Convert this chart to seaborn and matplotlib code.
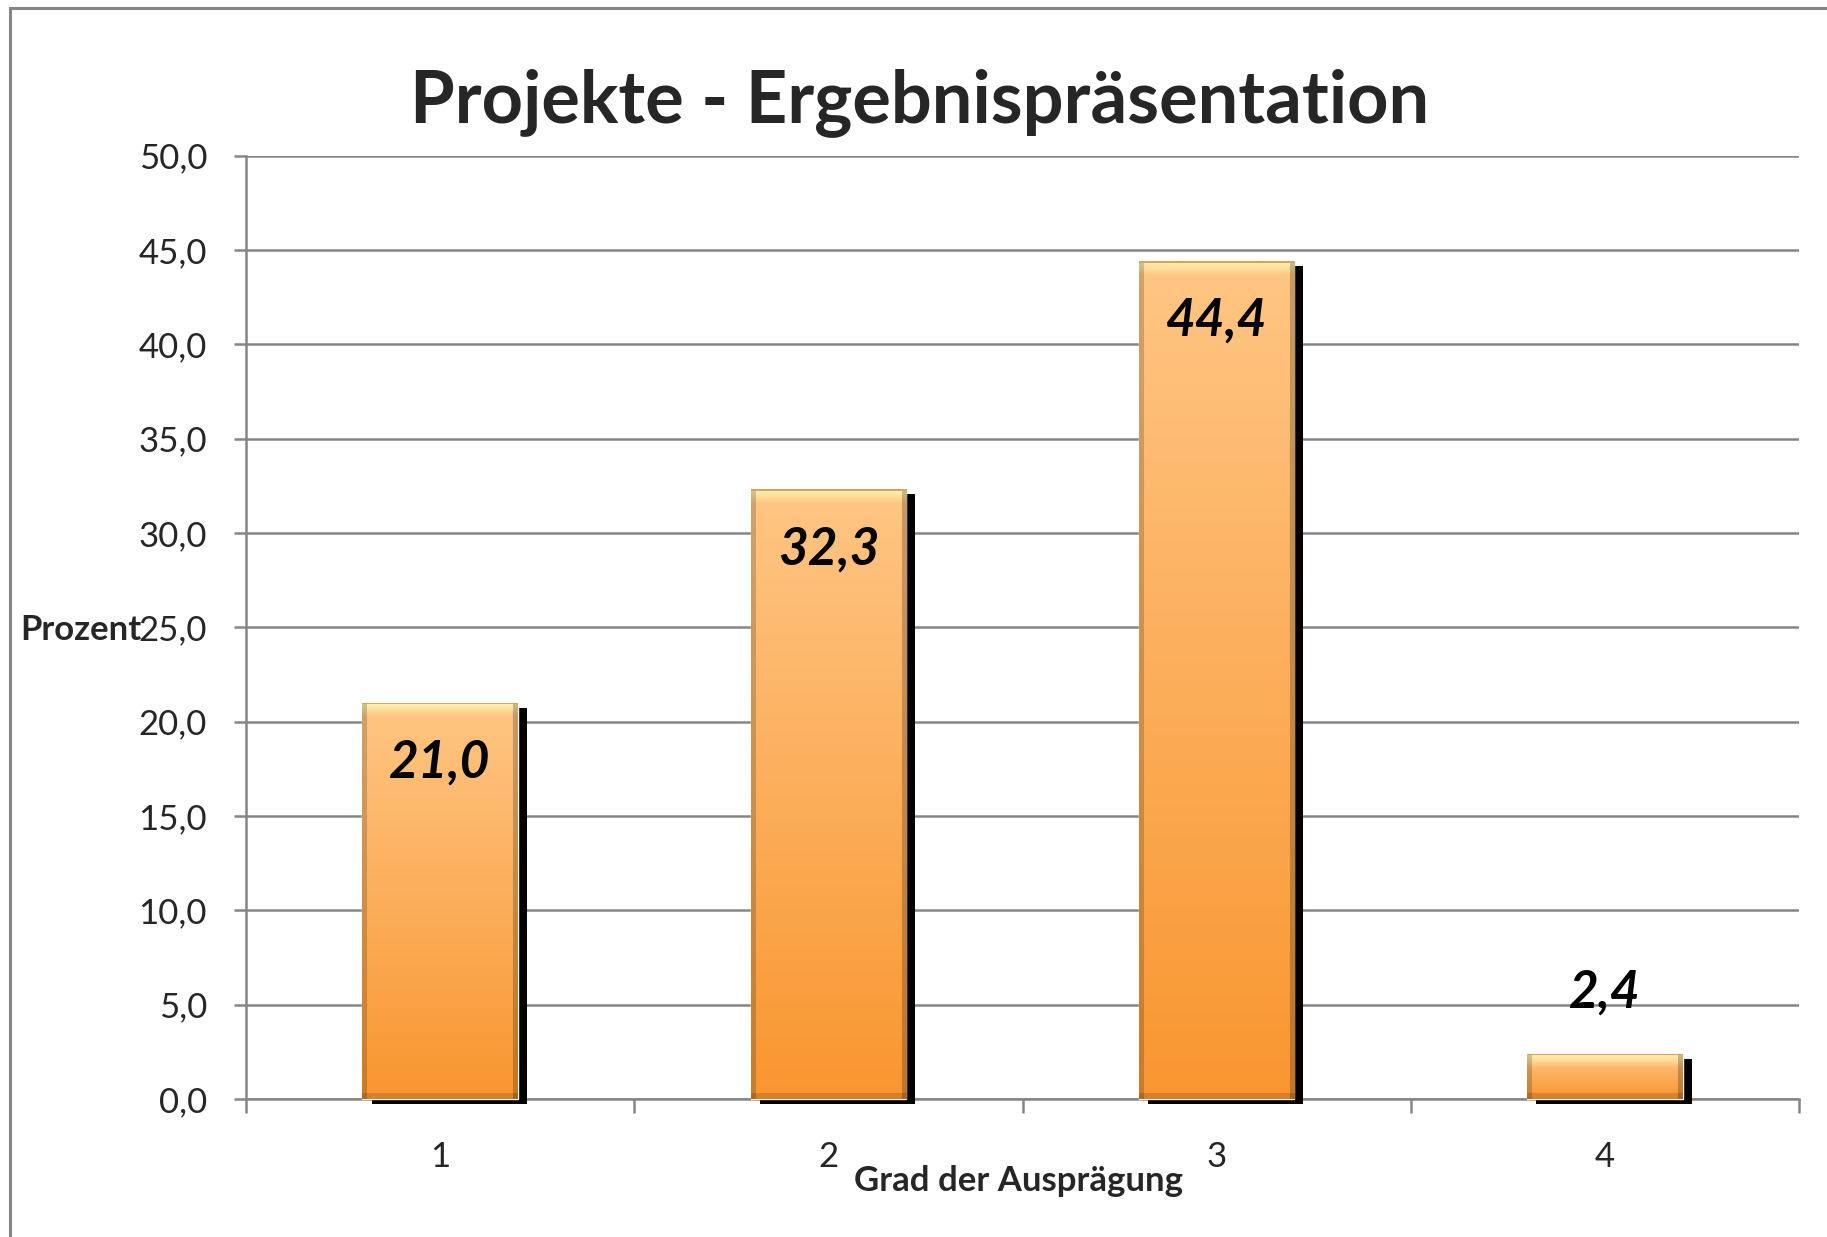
import numpy as np
import pandas as pd
import seaborn as sns
import matplotlib.pyplot as plt
import matplotlib.patheffects as pe
from matplotlib.ticker import FuncFormatter, FixedLocator

categories = ["1", "2", "3", "4"]
prozent = [21.0, 32.3, 44.4, 2.4]
title = "Projekte - Ergebnispräsentation"
xlabel = "Grad der Ausprägung"
ylabel = "Prozent"

sns.set_style("white")
plt.rcParams["font.family"] = ["Lato", "DejaVu Sans"]

W, H, DPI = 1827, 1237, 100
fig = plt.figure(figsize=(W / DPI, H / DPI), dpi=DPI)
ax = fig.add_axes([246 / W, 1 - 1099 / H, (1799 - 246) / W, (1099 - 155.5) / H])

df = pd.DataFrame({"grad": categories, "prozent": prozent})
sns.barplot(data=df, x="grad", y="prozent", color="#FBA54A", width=0.4,
            saturation=1, ax=ax, zorder=3)

ax.set_xlim(-0.5, 3.5)
ax.set_ylim(0, 50)
px_per_unit = (1099 - 155.5) / 50


def bar_image(h_px, w_px):
    # vertical orange gradient with a light bevel on top and darker rims
    t = np.linspace(0, 1, h_px)[:, None, None]
    top = np.array([255, 198, 132]) / 255
    bot = np.array([249, 150, 48]) / 255
    img = np.broadcast_to(top * (1 - t) + bot * t, (h_px, w_px, 3)).copy()
    hl = min(14, h_px // 3)
    for i in range(hl):
        a = 1 - i / hl
        img[i] = img[i] * (1 - a) + np.array([255, 246, 180]) / 255 * a
    img[-6:] = img[-6:] * 0.86
    img[:, :5] = img[:, :5] * 0.82
    img[:, -5:] = img[:, -5:] * 0.78
    img[:2] = np.array([225, 160, 90]) / 255
    return img


for p in ax.patches:
    p.set_path_effects([pe.SimplePatchShadow(offset=(6.5, -3.5), shadow_rgbFace="black", alpha=1.0),
                        pe.Normal()])
    p.set_clip_on(False)
    x0, y0, w, h = p.get_x(), p.get_y(), p.get_width(), p.get_height()
    img = bar_image(max(int(h * px_per_unit), 4), 155)
    im = ax.imshow(img, extent=[x0, x0 + w, y0, y0 + h], aspect="auto",
                   zorder=3.5, interpolation="bilinear")
    im.set_clip_path(p)

ax.set_xlim(-0.5, 3.5)
ax.set_ylim(0, 50)

# value labels
for i, v in enumerate(prozent):
    txt = f"{v:.1f}".replace(".", ",")
    y = v - 3.2 if v > 10 else v + 3.2
    ax.text(i, y, txt, ha="center", va="center", fontsize=37,
            fontweight="bold", fontstyle="italic", color="black", zorder=5)

# axes styling
ax.set_yticks(np.arange(0, 51, 5))
ax.yaxis.set_major_formatter(FuncFormatter(lambda y, _: f"{y:.1f}".replace(".", ",")))
ax.yaxis.grid(True, color="#868686", linewidth=1.8)
ax.set_axisbelow(True)
for s in ["top", "right"]:
    ax.spines[s].set_visible(False)
for s in ["left", "bottom"]:
    ax.spines[s].set_color("#868686")
    ax.spines[s].set_linewidth(1.8)
ax.tick_params(axis="y", which="major", direction="out", length=9, width=1.8,
               color="#868686", labelsize=25, pad=19, left=True)
ax.tick_params(axis="x", which="major", length=0, labelsize=25, pad=30)
ax.xaxis.set_minor_locator(FixedLocator(np.arange(-0.5, 3.6, 1)))
ax.tick_params(axis="x", which="minor", direction="out", length=10, width=1.8,
               color="#868686", bottom=True)
ax.set_xlabel("")
ax.set_ylabel("")

fig.text(920 / W, 1 - 122 / H, title, ha="center", va="baseline",
         fontsize=52, fontweight="bold")
fig.text(20 / W, 1 - 630 / H, ylabel, ha="left", va="center",
         fontsize=25, fontweight="bold")
fig.text(1018 / W, 1 - 1181 / H, xlabel, ha="center", va="center",
         fontsize=25, fontweight="bold")

# outer chart frame (only top and left edges are inside the picture)
fig.add_artist(plt.Rectangle((10 / W, -0.1), 1.2, 1.1 - 8 / H, transform=fig.transFigure,
                             fill=False, edgecolor="#868686", linewidth=2.2))

fig.savefig("out.png", dpi=DPI)
